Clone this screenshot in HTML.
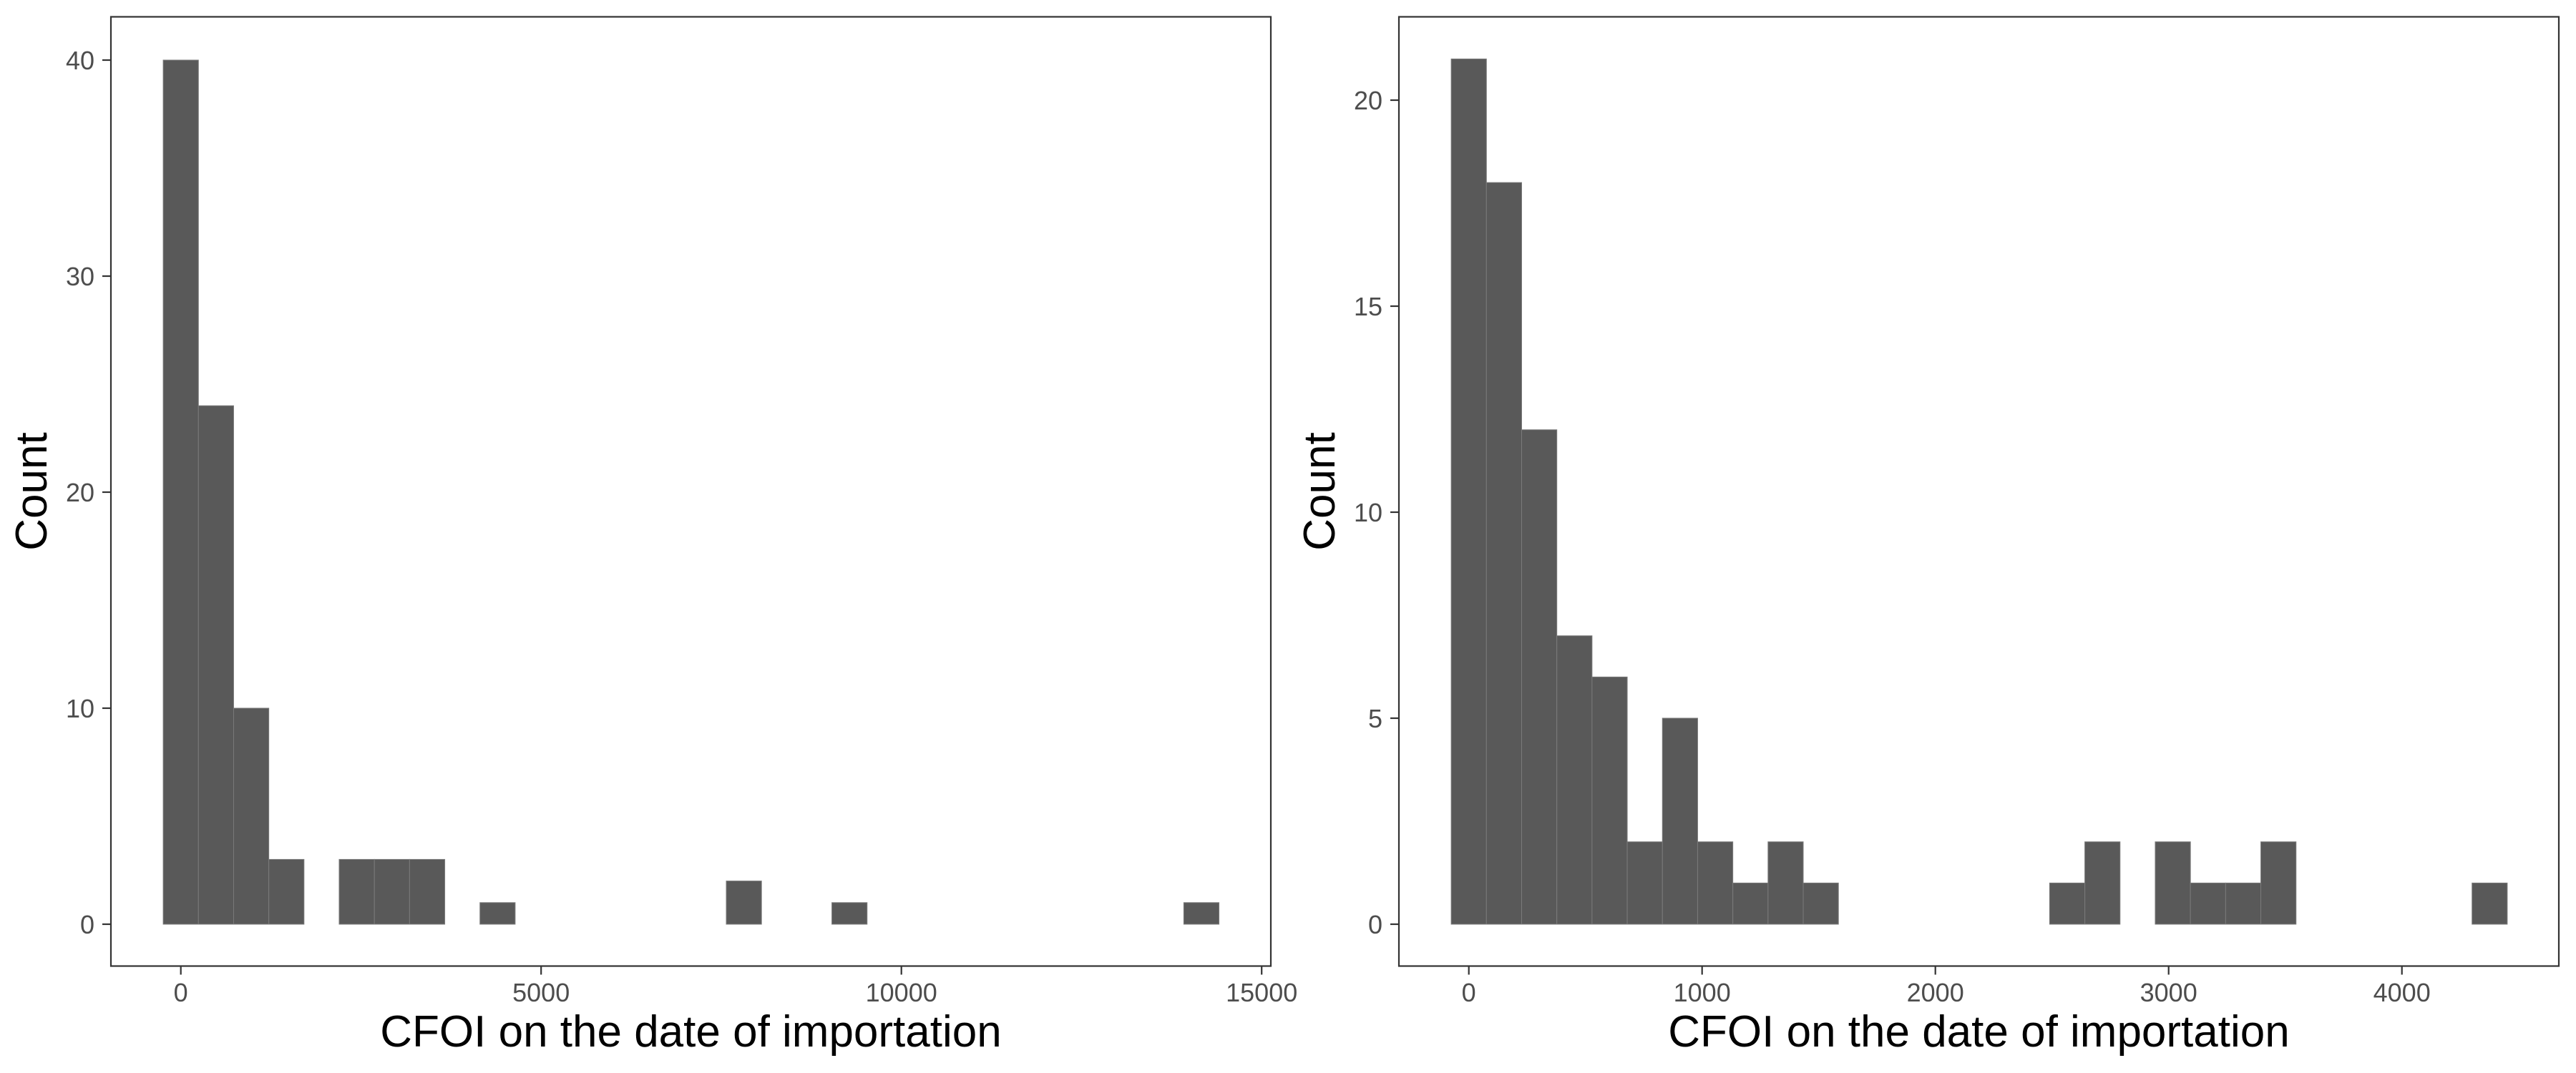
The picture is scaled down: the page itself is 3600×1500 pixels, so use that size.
<!DOCTYPE html>
<html><head><meta charset="utf-8"><style>
html,body{margin:0;padding:0;background:#fff;}
svg{display:block;font-family:"Liberation Sans",sans-serif;}
</style></head><body>
<svg id="chart" width="3600" height="1500" viewBox="0 0 3600 1500" xmlns="http://www.w3.org/2000/svg"></svg>
<script>
// Left histogram data
const leftBinWidth = 488.4;
const leftCounts = [40,24,10,3,0,3,3,3,0,1,0,0,0,0,0,0,2,0,0,1,0,0,0,0,0,0,0,0,0,1];
const leftXTicks = [0,5000,10000,15000];
const leftYTicks = [0,10,20,30,40];
// Right histogram data
const rightBinWidth = 150.9;
const rightCounts = [21,18,12,7,6,2,5,2,1,2,1,0,0,0,0,0,0,1,2,0,2,1,1,2,0,0,0,0,0,1];
const rightXTicks = [0,1000,2000,3000,4000];
const rightYTicks = [0,5,10,15,20];

const NS = "http://www.w3.org/2000/svg";
const svg = document.getElementById('chart');
function mk(tag, attrs, parent){
  const e = document.createElementNS(NS, tag);
  for (const k in attrs) e.setAttribute(k, attrs[k]);
  (parent||svg).appendChild(e);
  return e;
}

function panel(p){
  const g = mk('g', {});
  
  
  const xs = v => p.x0 + (v - 0) * p.xScale;
  const ys = v => p.y0 - v * p.yScale;
  // bars
  p.counts.forEach((c, i) => {
    if (c <= 0) return;
    const cx = i * p.bw;
    const r = mk('rect', {x: xs(cx - p.bw/2), y: ys(c), width: p.bw * p.xScale, height: ys(0) - ys(c), fill: '#595959', stroke: '#7a7a7a', 'stroke-width': 1}, g);
    
    
  });
  // frame
  const f = mk('rect', {x: p.left, y: p.top, width: p.right - p.left, height: p.bottom - p.top, fill: 'none', stroke: '#333', 'stroke-width': 2.2}, g);
  
  
  // y ticks
  p.yTicks.forEach(t => {
    const y = ys(t);
    mk('line', {x1: p.left - 12, x2: p.left, y1: y, y2: y, stroke: '#333', 'stroke-width': 2.2}, g);
    const tx = mk('text', {x: p.left - 23, y: y + 13, 'font-size': 36, fill: '#4d4d4d', 'text-anchor': 'end'}, g);
    tx.textContent = t;
    
    
  });
  // x ticks
  p.xTicks.forEach(t => {
    const x = xs(t);
    mk('line', {x1: x, x2: x, y1: p.bottom, y2: p.bottom + 12, stroke: '#333', 'stroke-width': 2.2}, g);
    const tx = mk('text', {x: x, y: 1400, 'font-size': 36, fill: '#4d4d4d', 'text-anchor': 'middle'}, g);
    tx.textContent = t;
    
    
  });
  const xt = mk('text', {x: (p.left + p.right)/2, y: 1463, 'font-size': 62, fill: '#000', 'text-anchor': 'middle'}, g);
  xt.textContent = 'CFOI on the date of importation';
  
  
  const cy = (p.top + p.bottom)/2;
  const yt = mk('text', {x: p.left - 90, y: cy, 'font-size': 62, fill: '#000', 'text-anchor': 'middle', transform: 'rotate(-90 ' + (p.left - 90) + ' ' + cy + ')'}, g);
  yt.textContent = 'Count';
  
  
}

panel({name:'left-histogram', left:155, right:1776, top:23.5, bottom:1350.5, x0:252.7, xScale:503.5/5000, y0:1292, yScale:30.2, bw:leftBinWidth, counts:leftCounts, xTicks:leftXTicks, yTicks:leftYTicks});
panel({name:'right-histogram', left:1955, right:3576, top:23.5, bottom:1350.5, x0:2052.7, xScale:326/1000, y0:1292, yScale:57.6, bw:rightBinWidth, counts:rightCounts, xTicks:rightXTicks, yTicks:rightYTicks});
</script>
</body></html>
